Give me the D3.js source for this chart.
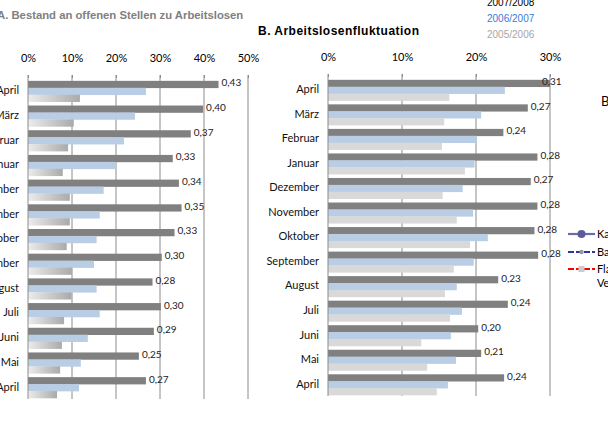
<!DOCTYPE html>
<html>
<head>
<meta charset="utf-8">
<script src="https://cdn.jsdelivr.net/npm/d3@7/dist/d3.min.js"></script>
<style>
  body { margin: 0; background: #fff; }
  svg { display: block; }
</style>
</head>
<body>
<div id="chart"></div>
<script>
(function () {
  "use strict";

  // categories (top to bottom)
  var months = ["April", "März", "Februar", "Januar", "Dezember", "November", "Oktober",
    "September", "August", "Juli", "Juni", "Mai", "April"];
  var seriesNames = ["2007/2008", "2006/2007", "2005/2006"];

  // A. Bestand an offenen Stellen zu Arbeitslosen
  var bestand0708 = [0.433, 0.398, 0.370, 0.329, 0.343, 0.349, 0.333, 0.304, 0.283, 0.302, 0.286, 0.252, 0.268];
  var bestand0607 = [0.268, 0.243, 0.218, 0.200, 0.172, 0.163, 0.156, 0.150, 0.156, 0.163, 0.136, 0.120, 0.116];
  var bestand0506 = [0.118, 0.104, 0.091, 0.079, 0.095, 0.095, 0.088, 0.100, 0.099, 0.082, 0.077, 0.073, 0.066];

  // B. Arbeitslosenfluktuation
  var fluk0708 = [0.310, 0.270, 0.237, 0.283, 0.274, 0.283, 0.279, 0.284, 0.230, 0.243, 0.203, 0.207, 0.238];
  var fluk0607 = [0.239, 0.207, 0.201, 0.198, 0.182, 0.196, 0.216, 0.197, 0.174, 0.181, 0.166, 0.173, 0.162];
  var fluk0506 = [0.164, 0.157, 0.154, 0.185, 0.155, 0.174, 0.192, 0.170, 0.158, 0.165, 0.126, 0.134, 0.147];

  var ticksA = [0, 0.1, 0.2, 0.3, 0.4, 0.5];
  var ticksB = [0, 0.1, 0.2, 0.3];

  var sideLegend = ["Ka", "Ba", "Fla", "Ve"];

  var W = 608, H = 421;
  var catFont = "Lato, 'Open Sans', sans-serif";
  var arial = "'Liberation Sans', Arial, sans-serif";

  var svg = d3.select("#chart").append("svg").attr("width", W).attr("height", H);

  var defs = svg.append("defs");
  var grad = defs.append("linearGradient").attr("id", "fadeGray")
    .attr("x1", "0%").attr("x2", "100%").attr("y1", "0%").attr("y2", "0%");
  grad.append("stop").attr("offset", "0%").attr("stop-color", "#ececec");
  grad.append("stop").attr("offset", "100%").attr("stop-color", "#aaaaaa");

  var fmtVal = d3.formatLocale({ decimal: ",", thousands: ".", grouping: [3], currency: ["", "€"] }).format(".2f");
  var fmtPct = d3.format(".0%");

  function drawPanel(cfg) {
    var g = svg.append("g");
    var x = d3.scaleLinear().domain([0, cfg.max]).range([cfg.x0, cfg.x1]);
    var y = d3.scaleBand().domain(d3.range(months.length)).range([cfg.y0, cfg.y1]);
    var sub = d3.scaleBand().domain(seriesNames).range([y.bandwidth() * 0.115, y.bandwidth() * 0.96]);

    // gridlines
    g.selectAll("line.grid").data(cfg.ticks.filter(function (t) { return t > 0; }))
      .enter().append("line").attr("class", "grid")
      .attr("x1", function (d) { return x(d); }).attr("x2", function (d) { return x(d); })
      .attr("y1", cfg.y0 - 3).attr("y2", cfg.y1)
      .attr("stroke", "#8c8c8c").attr("stroke-width", 1);

    // top axis
    var axis = d3.axisTop(x).tickValues(cfg.ticks).tickFormat(fmtPct).tickSize(3).tickPadding(13);
    var ax = g.append("g").attr("transform", "translate(0," + cfg.y0 + ")").call(axis);
    ax.select(".domain").remove();
    ax.selectAll(".tick line").attr("stroke", "#8c8c8c");
    ax.selectAll(".tick text").attr("font-family", catFont).attr("font-size", 11).attr("fill", "#000");

    var series = [
      { name: seriesNames[0], vals: cfg.s1, fill: "#808080" },
      { name: seriesNames[1], vals: cfg.s2, fill: "#b9cde5" },
      { name: seriesNames[2], vals: cfg.s3, fill: cfg.lastFill }
    ];

    series.forEach(function (s) {
      g.append("g").selectAll("rect").data(s.vals).enter().append("rect")
        .attr("x", x(0))
        .attr("y", function (d, i) { return y(i) + sub(s.name); })
        .attr("width", function (d) { return x(Math.min(d, cfg.max)) - x(0); })
        .attr("height", sub.bandwidth() + 0.3)
        .attr("fill", s.fill);
    });

    // value labels of first series
    g.append("g").selectAll("text").data(cfg.s1).enter().append("text")
      .attr("x", function (d) { return Math.min(x(d) + 3, x(cfg.max) - 8); })
      .attr("y", function (d, i) { return y(i) + sub(seriesNames[0]) + sub.bandwidth() / 2; })
      .attr("dy", "0.2em")
      .attr("font-family", catFont).attr("font-size", 10).attr("fill", "#222")
      .text(function (d) { return fmtVal(d); });

    // category axis line
    g.append("line").attr("x1", x(0)).attr("x2", x(0)).attr("y1", cfg.y0 - 3).attr("y2", cfg.y1)
      .attr("stroke", "#8c8c8c");

    // category labels
    g.append("g").selectAll("text").data(months).enter().append("text")
      .attr("x", cfg.labelX)
      .attr("y", function (d, i) { return y(i) + y.bandwidth() / 2; })
      .attr("dy", "0.35em")
      .attr("text-anchor", "end")
      .attr("font-family", catFont).attr("font-size", 11).attr("fill", "#111")
      .text(function (d) { return d; });
  }

  drawPanel({ x0: 28, x1: 248, y0: 78, y1: 399, max: 0.5, ticks: ticksA, labelX: 19,
    s1: bestand0708, s2: bestand0607, s3: bestand0506, lastFill: "url(#fadeGray)" });
  drawPanel({ x0: 328, x1: 550, y0: 77, y1: 396, max: 0.3, ticks: ticksB, labelX: 319,
    s1: fluk0708, s2: fluk0607, s3: fluk0506, lastFill: "#d9d9d9" });

  // titles
  svg.append("text").attr("x", -3).attr("y", 19)
    .attr("font-family", arial).attr("font-weight", "bold").attr("font-size", 11.3).attr("fill", "#808080")
    .text("A. Bestand an offenen Stellen zu Arbeitslosen");
  svg.append("text").attr("x", 258).attr("y", 35)
    .attr("font-family", arial).attr("font-weight", "bold").attr("font-size", 12)
    .attr("fill", "#000")
    .attr("textLength", 161).attr("lengthAdjust", "spacing")
    .text("B. Arbeitslosenfluktuation");

  // year legend
  var legColors = ["#000000", "#3b7bd6", "#a6a6a6"];
  svg.append("g").selectAll("text").data(seriesNames).enter().append("text")
    .attr("x", 487)
    .attr("y", function (d, i) { return 6 + i * 16; })
    .attr("font-family", arial).attr("font-size", 10)
    .attr("fill", function (d, i) { return legColors[i]; })
    .text(function (d) { return d; });

  // cropped legend on the right edge
  svg.append("text").attr("x", 601).attr("y", 106)
    .attr("font-family", catFont).attr("font-size", 13).attr("fill", "#000").text("B");

  var lg = svg.append("g");
  var rows = [
    { y: 234, stroke: "#6b6ba8", dash: null, marker: "circle", mfill: "#5b5b9b", r: 4 },
    { y: 252, stroke: "#333399", dash: "6,2", marker: "circle", mfill: "#9a9a9a", r: 2.2 },
    { y: 269, stroke: "#ff0000", dash: "6,2", marker: "square", mfill: "#cccccc", r: 3 }
  ];
  rows.forEach(function (r, i) {
    lg.append("line").attr("x1", 568).attr("x2", 595).attr("y1", r.y).attr("y2", r.y)
      .attr("stroke", r.stroke).attr("stroke-width", 2.2).attr("stroke-dasharray", r.dash);
    if (r.marker === "circle") {
      lg.append("circle").attr("cx", 581.5).attr("cy", r.y).attr("r", r.r).attr("fill", r.mfill);
    } else {
      lg.append("rect").attr("x", 581.5 - r.r).attr("y", r.y - r.r).attr("width", r.r * 2).attr("height", r.r * 2)
        .attr("fill", r.mfill);
    }
    lg.append("text").attr("x", 597).attr("y", r.y).attr("dy", "0.35em")
      .attr("font-family", catFont).attr("font-size", 11).attr("fill", "#000").text(sideLegend[i]);
  });
  lg.append("text").attr("x", 597).attr("y", 283).attr("dy", "0.35em")
    .attr("font-family", catFont).attr("font-size", 11).attr("fill", "#000").text(sideLegend[3]);
})();
</script>
</body>
</html>
